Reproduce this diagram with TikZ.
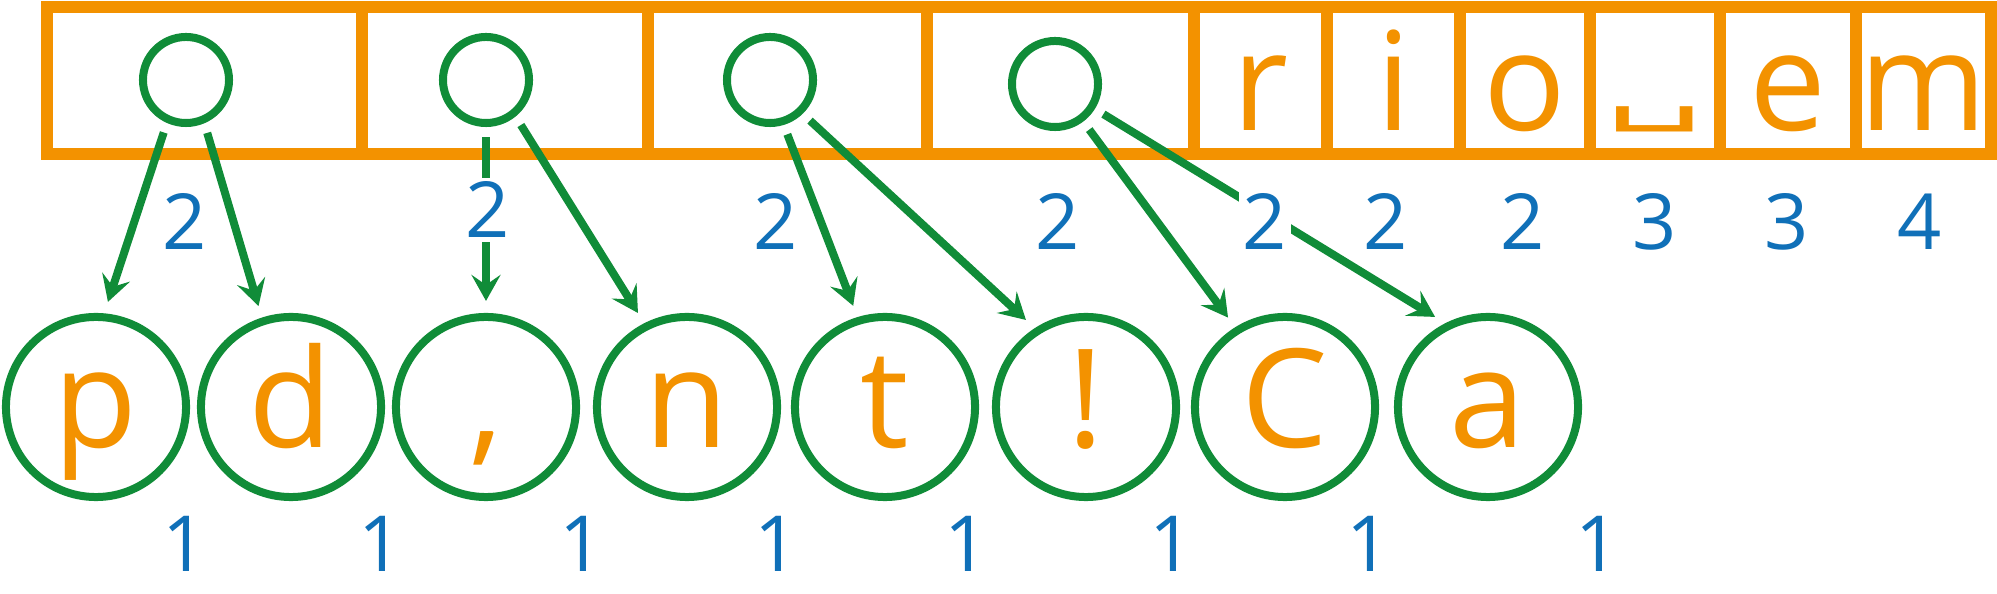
\documentclass[tikz,border=0pt]{standalone}
\usepackage{fontspec}
\setmainfont{Open Sans}
\newfontfamily\symfont{DejaVu Sans}
\usetikzlibrary{arrows.meta}
\definecolor{cellorange}{RGB}{243,146,0}
\definecolor{linkgreen}{RGB}{16,140,56}
\definecolor{countblue}{RGB}{16,112,184}
\newcommand\bigletters{\fontsize{39}{46}\selectfont}
\newcommand\countfont{\fontsize{22}{27}\selectfont}
\newcommand\spacemark{\raisebox{1.6mm}{\scalebox{1.05}[0.52]{\symfont\fontsize{42}{48}\selectfont ␣}}}

\begin{document}
\begin{tikzpicture}[x=0.01cm, y=0.01cm, >={Stealth[length=2.6mm, width=2.9mm, inset=1mm]},
    cell/.style={draw=cellorange, line width=1.2mm, outer sep=0pt, inner sep=0pt, minimum height=1.47cm,
      text=cellorange, font=\bigletters, text height=1.1cm, text depth=0.1cm},
    ptr/.style={circle, draw=linkgreen, line width=0.8mm, minimum size=0.86cm, inner sep=0pt},
    chr/.style={circle, draw=linkgreen, line width=0.8mm, minimum size=1.8cm, inner sep=0pt,
      text=cellorange, font=\bigletters, text height=1cm, text depth=0.2cm},
    link/.style={->, draw=linkgreen, line width=0.8mm, shorten <=1mm, shorten >=1.2mm},
    count/.style={text=countblue, font=\countfont, anchor=base, fill=white, inner sep=0.4mm}]
    \useasboundingbox (0,0) rectangle (1997,594);
    \node[cell, minimum width=3.15cm] (c1) at (204.5,513.5) {};
    \node[cell, minimum width=2.86cm] (c2) at (505,513.5) {};
    \node[cell, minimum width=2.79cm] (c3) at (787.5,513.5) {};
    \node[cell, minimum width=2.67cm] (c4) at (1060.5,513.5) {};
    \node[cell, minimum width=1.33cm] (c5) at (1260.5,513.5) {r};
    \node[cell, minimum width=1.33cm] (c6) at (1393.5,513.5) {i};
    \node[cell, minimum width=1.30cm] (c7) at (1525,513.5) {o};
    \node[cell, minimum width=1.30cm] (c8) at (1655,513.5) {\spacemark};
    \node[cell, minimum width=1.36cm] (c9) at (1788,513.5) {e};
    \node[cell, minimum width=1.35cm] (c10) at (1923.5,513.5) {m};
    \node[ptr] (p1) at (186,514) {};
    \node[ptr] (p2) at (486,514) {};
    \node[ptr] (p3) at (770,514) {};
    \node[ptr] (p4) at (1055,510) {};
    \node[chr] (b1) at (96,187) {p};
    \node[chr] (b2) at (291,187) {d};
    \node[chr] (b3) at (486,187) {,};
    \node[chr] (b4) at (687,187) {n};
    \node[chr] (b5) at (885,187) {t};
    \node[chr] (b6) at (1086,187) {!};
    \node[chr] (b7) at (1285,187) {C};
    \node[chr] (b8) at (1488,187) {a};
    \draw[link] (p1.-114) -- (b1.85);
    \draw[link] (p1.-67) -- (b2.108);
    \draw[link] (p2.south) -- (b3.north);
    \draw[link] (p2.-51) -- (b4.117);
    \draw[link] (p3.-73) -- (b5.107);
    \draw[link] (p3.-46) -- (b6.123);
    \draw[link] (p4.-53) -- (b7.122);
    \draw[link] (p4.-32) -- (b8.117);
    \node[count] (n1) at (185,344) {2};
    \node[count] (n2) at (488,356) {2};
    \node[count] (n3) at (776,344) {2};
    \node[count] (n4) at (1058,344) {2};
    \node[count] (n5) at (1265,344) {2};
    \node[count] (n6) at (1386,344) {2};
    \node[count] (n7) at (1523,344) {2};
    \node[count] (n8) at (1655,344) {3};
    \node[count] (n9) at (1787,344) {3};
    \node[count] (n10) at (1920,344) {4};
    \node[count] (o1) at (185,22) {1};
    \node[count] (o2) at (381,22) {1};
    \node[count] (o3) at (582,22) {1};
    \node[count] (o4) at (777,22) {1};
    \node[count] (o5) at (967,22) {1};
    \node[count] (o6) at (1172,22) {1};
    \node[count] (o7) at (1369,22) {1};
    \node[count] (o8) at (1598,22) {1};
  \end{tikzpicture}
\end{document}
